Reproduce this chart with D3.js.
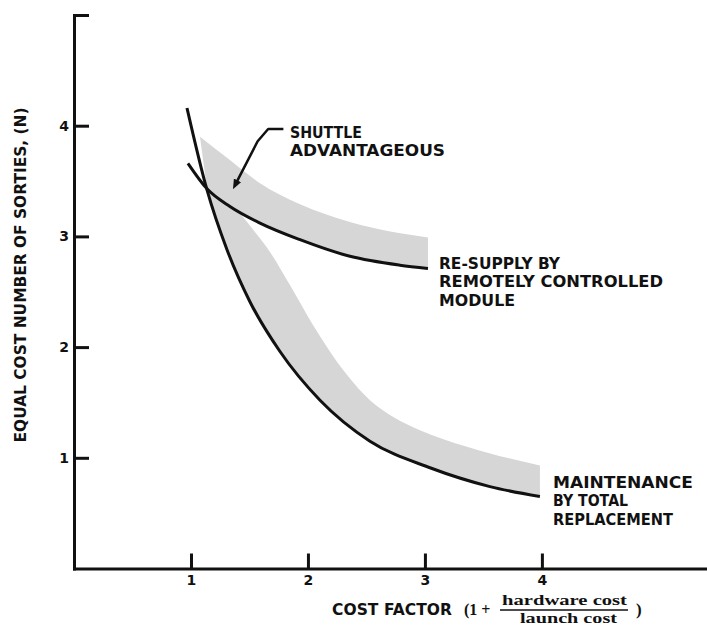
<!DOCTYPE html>
<html>
<head>
<meta charset="utf-8">
<script src="https://cdn.jsdelivr.net/npm/d3@7"></script>
<style>
  body { margin: 0; background: #fff; }
  text { font-family: "DejaVu Sans", sans-serif; font-weight: bold; fill: #111; }
  .serif { font-family: "Liberation Serif", serif; }
</style>
</head>
<body>
<script>
// Values (x = cost factor, y = equal cost number of sorties)
const xTicks = [1, 2, 3, 4];
const yTicks = [1, 2, 3, 4, 5];

const maintenance = [[0.966, 4.16], [1.137, 3.42], [1.308, 2.88], [1.504, 2.41], [1.761, 1.96],
  [2.103, 1.52], [2.530, 1.15], [3.043, 0.91], [3.556, 0.74], [3.983, 0.65]];
const maintenanceEdge = [[1.402, 3.23], [1.547, 3.04], [1.675, 2.86], [1.846, 2.56], [2.043, 2.20],
  [2.333, 1.75], [2.530, 1.52], [2.744, 1.36], [2.957, 1.25], [3.359, 1.10], [3.983, 0.93]];

const resupply = [[0.974, 3.66], [1.137, 3.43], [1.333, 3.27], [1.590, 3.12], [1.932, 2.97],
  [2.359, 2.82], [2.786, 2.74], [3.026, 2.71]];
const resupplyEdge = [[1.077, 3.90], [1.333, 3.69], [1.590, 3.48], [1.932, 3.29], [2.359, 3.13],
  [3.026, 2.99]];

const arrow = [[1.79, 3.97], [1.66, 3.97], [1.57, 3.86], [1.39, 3.49]];

const width = 707, height = 631;
const svg = d3.select("body").append("svg")
    .attr("width", width)
    .attr("height", height);

const x = d3.scaleLinear().domain([0, 5.42]).range([74, 708]);
const y = d3.scaleLinear().domain([0, 5]).range([568.5, 15]);

const line = d3.line()
    .x(d => x(d[0]))
    .y(d => y(d[1]))
    .curve(d3.curveMonotoneX);

// band = lower curve part + upper edge walked backwards, closed
function band(lower, upper) {
    const a = line(lower);
    const b = line(upper.slice().reverse()).replace(/^M/, "L");
    return a + b + "Z";
}

// shaded "shuttle advantageous" bands
svg.append("path")
    .attr("d", band(resupply.filter(d => d[0] >= 1.13), resupplyEdge))
    .attr("fill", "#d6d6d6");
svg.append("path")
    .attr("d", band(maintenance.filter(d => d[0] >= 1.13), maintenanceEdge))
    .attr("fill", "#d6d6d6");

// axes
const yAxis = d3.axisLeft(y)
    .tickValues(yTicks)
    .tickSizeInner(-15)
    .tickSizeOuter(0)
    .tickPadding(5)
    .tickFormat(d => d < 5 ? d : "");
const xAxis = d3.axisBottom(x)
    .tickValues(xTicks)
    .tickSizeInner(-15)
    .tickSizeOuter(0)
    .tickPadding(7)
    .tickFormat(d3.format("d"));

const gy = svg.append("g").attr("transform", `translate(${x(0)},0)`).call(yAxis);
const gx = svg.append("g").attr("transform", `translate(0,${y(0)})`).call(xAxis);
[gx, gy].forEach(g => {
    g.select(".domain").attr("stroke", "#111").attr("stroke-width", 3).attr("stroke-linecap", "square");
    g.selectAll(".tick line").attr("stroke", "#111").attr("stroke-width", 3);
    g.selectAll(".tick text")
        .attr("font-size", 14)
        .attr("font-family", "DejaVu Sans")
        .attr("font-weight", "bold")
        .attr("fill", "#111");
});

// curves
svg.append("path").attr("d", line(resupply))
    .attr("fill", "none").attr("stroke", "#111").attr("stroke-width", 3);
svg.append("path").attr("d", line(maintenance))
    .attr("fill", "none").attr("stroke", "#111").attr("stroke-width", 3);

// arrow to the shaded area
svg.append("defs").append("marker")
    .attr("id", "head")
    .attr("viewBox", "0 -5 10 10")
    .attr("refX", 2).attr("refY", 0)
    .attr("markerWidth", 4).attr("markerHeight", 4)
    .attr("orient", "auto")
    .append("path").attr("d", "M0,-4L10,0L0,4Z").attr("fill", "#111");
svg.append("path")
    .attr("d", d3.line().x(d => x(d[0])).y(d => y(d[1]))(arrow))
    .attr("fill", "none").attr("stroke", "#111").attr("stroke-width", 2.5)
    .attr("stroke-linejoin", "round")
    .attr("marker-end", "url(#head)");

// labels
function label(lines, x0, y0, lens, size) {
    lines.forEach((t, i) => {
        svg.append("text")
            .attr("x", x0).attr("y", y0 + i * 18.3)
            .attr("font-size", size)
            .attr("textLength", lens[i])
            .attr("lengthAdjust", "spacingAndGlyphs")
            .text(t);
    });
}
label(["SHUTTLE", "ADVANTAGEOUS"], 290, 138, [72, 155], 16);
label(["RE-SUPPLY BY", "REMOTELY CONTROLLED", "MODULE"], 439, 269, [121, 224, 76], 16);
label(["MAINTENANCE", "BY TOTAL", "REPLACEMENT"], 553, 488, [140, 75, 120], 16);

// y axis title
svg.append("text")
    .attr("transform", "translate(26,275) rotate(-90)")
    .attr("text-anchor", "middle")
    .attr("font-size", 15)
    .attr("textLength", 335)
    .attr("lengthAdjust", "spacingAndGlyphs")
    .text("EQUAL COST NUMBER OF SORTIES, (N)");

// x axis title with fraction
svg.append("text").attr("x", 332).attr("y", 615).attr("font-size", 15.5)
    .attr("textLength", 120).attr("lengthAdjust", "spacing")
    .text("COST FACTOR");
svg.append("text").attr("class", "serif").attr("x", 464).attr("y", 615).attr("font-size", 16)
    .text("(1 +");
svg.append("text").attr("class", "serif").attr("x", 502).attr("y", 605).attr("font-size", 15)
    .attr("textLength", 125).attr("lengthAdjust", "spacingAndGlyphs")
    .text("hardware cost");
svg.append("line").attr("x1", 500).attr("x2", 628).attr("y1", 610).attr("y2", 610)
    .attr("stroke", "#111").attr("stroke-width", 1.5);
svg.append("text").attr("class", "serif").attr("x", 520).attr("y", 623).attr("font-size", 15)
    .attr("textLength", 97).attr("lengthAdjust", "spacingAndGlyphs")
    .text("launch cost");
svg.append("text").attr("class", "serif").attr("x", 636).attr("y", 615).attr("font-size", 17)
    .text(")");
</script>
</body>
</html>
